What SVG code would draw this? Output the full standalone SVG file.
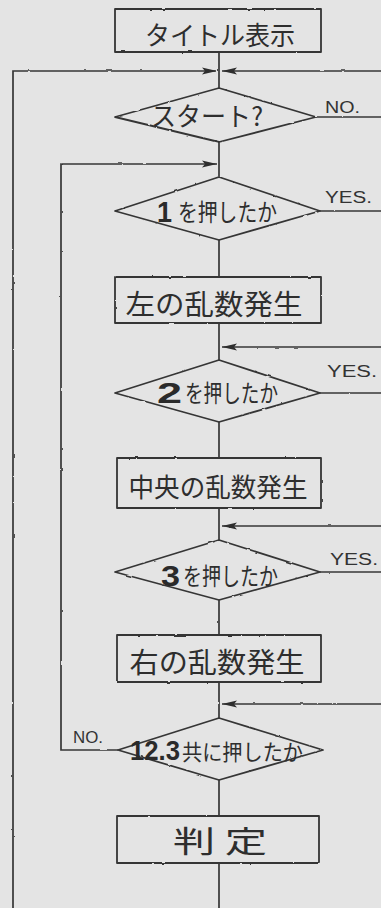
<svg xmlns="http://www.w3.org/2000/svg" width="381" height="908" viewBox="0 0 381 908">
<defs>
<style>
.shape{fill:none;stroke:#363636;stroke-width:1.8;stroke-linejoin:round}
.line{fill:none;stroke:#363636;stroke-width:1.7}
.jp{font-family:"Noto Sans CJK JP","Noto Sans CJK SC",sans-serif;fill:#2e2e2e;text-anchor:middle;dominant-baseline:central}
.st{text-anchor:start}
.num{font-family:"Liberation Sans",sans-serif;font-weight:bold;fill:#2a2a2a;text-anchor:start;dominant-baseline:central}
.lbl{font-family:"Liberation Sans","DejaVu Sans",sans-serif;fill:#333;font-size:16px}
</style>
<filter id="wob" x="-5%" y="-5%" width="110%" height="110%">
<feTurbulence type="fractalNoise" baseFrequency="0.15" numOctaves="1" seed="3"/>
<feDisplacementMap in="SourceGraphic" scale="2.2" xChannelSelector="R" yChannelSelector="G"/>
</filter>
<marker id="ah" markerWidth="16" markerHeight="8" refX="15" refY="4" orient="auto" markerUnits="userSpaceOnUse">
<path d="M0,0.5 L15,4 L0,7.5 L3,4 Z" fill="#2e2e2e"/>
</marker>
</defs>
<rect width="381" height="908" fill="#e4e4e4"/>

<g id="connectors" filter="url(#wob)">
<path class="line" d="M219,52 V88 M219,142 V177 M219,240 V277 M219,323 V360 M219,422 V458 M219,508 V540 M219,600 V635 M219,682 V718 M219,780 V816 M219,863 V908"/>
<path class="line" d="M13,908 V71 H217" marker-end="url(#ah)"/>
<path class="line" d="M381,71 H222" marker-end="url(#ah)"/>
<path class="line" d="M316,117 H381"/>
<path class="line" d="M118,750 H61 V164 H217" marker-end="url(#ah)"/>
<path class="line" d="M320,211 H381"/>
<path class="line" d="M381,347 H222" marker-end="url(#ah)"/>
<path class="line" d="M320,393 H381"/>
<path class="line" d="M381,526 H222" marker-end="url(#ah)"/>
<path class="line" d="M320,572 H381"/>
<path class="line" d="M381,704 H222" marker-end="url(#ah)"/>
</g>

<g id="title">
<rect class="shape" x="115" y="9" width="206" height="43" filter="url(#wob)"/>
<text class="jp" x="220" y="33" font-size="26" textLength="150" lengthAdjust="spacingAndGlyphs">タイトル表示</text>
</g>

<g id="start">
<polygon class="shape" points="115,117 219,88 316,117 219,142" filter="url(#wob)"/>
<text class="jp" x="207" y="114" font-size="26" textLength="112" lengthAdjust="spacingAndGlyphs">スタート?</text>
<text class="lbl" x="325" y="113" textLength="35" lengthAdjust="spacingAndGlyphs">NO.</text>
</g>

<g id="check1">
<polygon class="shape" points="115,211 219,177 320,211 219,240" filter="url(#wob)"/>
<text class="num" x="157" y="211" font-size="30" textLength="15" lengthAdjust="spacingAndGlyphs">1</text>
<text class="jp st" x="178" y="210" font-size="24" textLength="99" lengthAdjust="spacingAndGlyphs">を押したか</text>
<text class="lbl" x="325" y="203" font-size="17" textLength="47" lengthAdjust="spacingAndGlyphs">YES.</text>
</g>

<g id="left-rand">
<rect class="shape" x="115" y="277" width="206" height="46" filter="url(#wob)"/>
<text class="jp" x="214" y="303" font-size="28" textLength="177" lengthAdjust="spacingAndGlyphs">左の乱数発生</text>
</g>

<g id="check2">
<polygon class="shape" points="115,393 219,360 320,393 219,422" filter="url(#wob)"/>
<text class="num" x="157" y="392" font-size="30" textLength="25" lengthAdjust="spacingAndGlyphs">2</text>
<text class="jp st" x="185" y="391" font-size="24" textLength="93" lengthAdjust="spacingAndGlyphs">を押したか</text>
<text class="lbl" x="327" y="377" font-size="17" textLength="50" lengthAdjust="spacingAndGlyphs">YES.</text>
</g>

<g id="center-rand">
<rect class="shape" x="117" y="458" width="204" height="50" filter="url(#wob)"/>
<text class="jp" x="218" y="485" font-size="26" textLength="179" lengthAdjust="spacingAndGlyphs">中央の乱数発生</text>
</g>

<g id="check3">
<polygon class="shape" points="115,572 219,540 320,572 219,600" filter="url(#wob)"/>
<text class="num" x="161" y="575" font-size="30" textLength="19" lengthAdjust="spacingAndGlyphs">3</text>
<text class="jp st" x="183" y="574" font-size="24" textLength="95" lengthAdjust="spacingAndGlyphs">を押したか</text>
<text class="lbl" x="330" y="565" font-size="16" textLength="48" lengthAdjust="spacingAndGlyphs">YES.</text>
</g>

<g id="right-rand">
<rect class="shape" x="117" y="635" width="204" height="47" filter="url(#wob)"/>
<text class="jp" x="217" y="661" font-size="28" textLength="175" lengthAdjust="spacingAndGlyphs">右の乱数発生</text>
</g>

<g id="check-all">
<polygon class="shape" points="118,750 219,718 323,750 219,780" filter="url(#wob)"/>
<text class="num" x="130" y="751" font-size="27" textLength="50" lengthAdjust="spacingAndGlyphs">12.3</text>
<text class="jp st" x="182" y="750" font-size="22" textLength="121" lengthAdjust="spacingAndGlyphs">共に押したか</text>
<text class="lbl" x="73" y="743" font-size="15" textLength="30" lengthAdjust="spacingAndGlyphs">NO.</text>
</g>

<g id="judge">
<rect class="shape" x="117" y="816" width="202" height="47" filter="url(#wob)"/>
<text class="jp" x="220" y="839" font-size="30" textLength="94" lengthAdjust="spacingAndGlyphs">判 定</text>
</g>
</svg>
